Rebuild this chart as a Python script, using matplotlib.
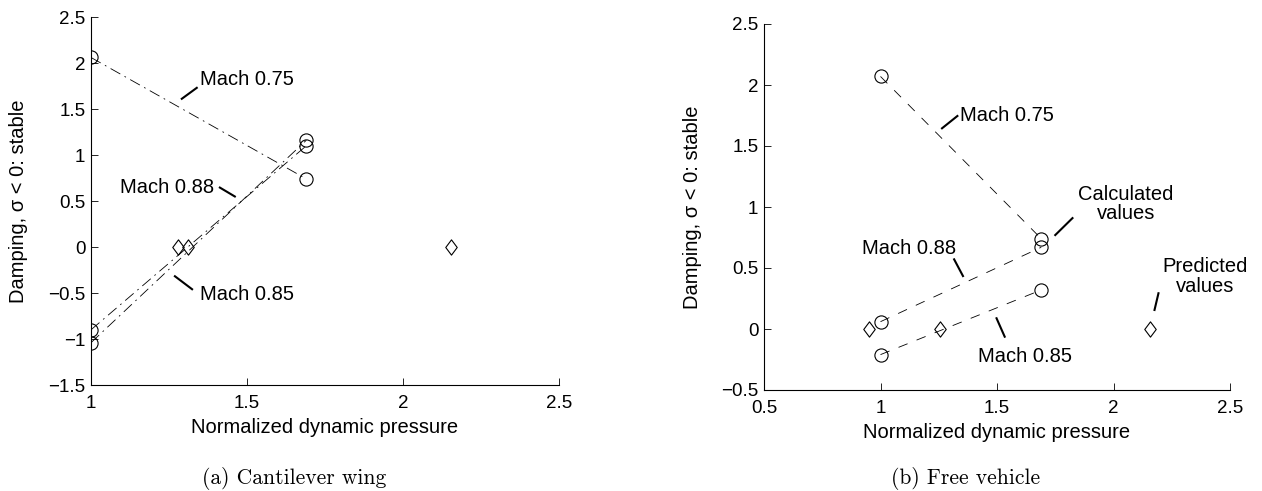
import matplotlib
matplotlib.use("Agg")
import matplotlib.pyplot as plt
from matplotlib.path import Path

plt.rcParams['font.family'] = ['Liberation Sans', 'DejaVu Sans']
plt.rcParams['lines.scale_dashes'] = False

# ---- data: (a) cantilever wing ----
wing_q = [1.0, 1.69]
wing_m075 = [2.06, 0.74]
wing_m088 = [-0.90, 1.10]
wing_m085 = [-1.04, 1.16]
wing_pred_q = [1.28, 1.31, 2.155]
wing_pred_s = [0.0, 0.0, 0.0]

# ---- data: (b) free vehicle ----
veh_q = [1.0, 1.69]
veh_m075 = [2.07, 0.74]
veh_m088 = [0.06, 0.67]
veh_m085 = [-0.21, 0.32]
veh_pred_q = [0.95, 1.255, 2.158]
veh_pred_s = [0.0, 0.0, 0.0]

xlabel = "Normalized dynamic pressure"
ylabel = "Damping, σ < 0: stable"

W, H = 1262, 491
fig = plt.figure(figsize=(W / 100, H / 100), dpi=100)


def px_axes(x0, x1, ytop, ybot):
    return fig.add_axes([x0 / W, 1 - ybot / H, (x1 - x0) / W, (ybot - ytop) / H])


axA = px_axes(91, 559, 17, 385)
axB = px_axes(764, 1230, 24, 390)

diamond = Path([(0, 1), (0.75, 0), (0, -1), (-0.75, 0), (0, 1)],
               [Path.MOVETO, Path.LINETO, Path.LINETO, Path.LINETO, Path.CLOSEPOLY])
circ = dict(marker='o', ms=9.5, mfc='none', mec='black', mew=0.8)
diam = dict(marker=diamond, ms=11, mfc='none', mec='black', mew=0.8, ls='none')
fs_tick = 13.5
fs = 14.5


def style(ax, xlim, ylim, xticks, yticks):
    ax.set_xlim(*xlim)
    ax.set_ylim(*ylim)
    ax.set_xticks(xticks)
    ax.set_yticks(yticks)
    ax.set_xticklabels([f"{t:g}".replace('-', '\u2212') for t in xticks])
    ax.set_yticklabels([f"{t:g}".replace('-', '\u2212') for t in yticks])
    for s in ('top', 'right'):
        ax.spines[s].set_visible(False)
    for s in ('left', 'bottom'):
        ax.spines[s].set_linewidth(0.8)
    ax.tick_params(direction='in', length=5, width=0.6, labelsize=fs_tick)
    ax.tick_params(axis='x', pad=7)
    ax.tick_params(axis='y', pad=4)
    ax.set_xlabel(xlabel, fontsize=fs, va='top')
    ax.set_ylabel(ylabel, fontsize=fs, va='center')


def leader(ax, x0, y0, x1, y1):
    ax.plot([x0, x1], [y0, y1], color='black', lw=1.5, clip_on=False)


# (a) cantilever wing, dash-dot lines
dd = (0, (8, 3.5, 1.2, 3.5))
for ys in (wing_m075, wing_m088, wing_m085):
    axA.plot(wing_q, ys, color='black', lw=0.6, linestyle=dd)
    axA.plot(wing_q, ys, ls='none', **circ)
axA.plot(wing_pred_q, wing_pred_s, **diam)
style(axA, (1, 2.5), (-1.5, 2.5), [1, 1.5, 2, 2.5],
      [-1.5, -1, -0.5, 0, 0.5, 1, 1.5, 2, 2.5])
axA.yaxis.set_label_coords((19 - 91) / 468, 0.5)
axA.xaxis.set_label_coords(0.5, -33 / 368)

axA.text(1.35, 1.817, "Mach 0.75", fontsize=fs, va='center', ha='left')
leader(axA, 1.291, 1.611, 1.339, 1.73)
axA.text(1.394, 0.646, "Mach 0.88", fontsize=fs, va='center', ha='right')
leader(axA, 1.413, 0.646, 1.461, 0.549)
axA.text(1.35, -0.514, "Mach 0.85", fontsize=fs, va='center', ha='left')
leader(axA, 1.269, -0.318, 1.324, -0.459)

# (b) free vehicle, dashed lines
dsh = (0, (7, 7))
for ys in (veh_m075, veh_m088, veh_m085):
    axB.plot(veh_q, ys, color='black', lw=0.6, linestyle=dsh)
    axB.plot(veh_q, ys, ls='none', **circ)
axB.plot(veh_pred_q, veh_pred_s, **diam)
style(axB, (0.5, 2.5), (-0.5, 2.5), [0.5, 1, 1.5, 2, 2.5],
      [-0.5, 0, 0.5, 1, 1.5, 2, 2.5])
axB.yaxis.set_label_coords((693 - 764) / 466, 0.5)
axB.xaxis.set_label_coords(0.5, -33 / 366)

axB.text(1.342, 1.754, "Mach 0.75", fontsize=fs, va='center', ha='left')
leader(axB, 1.264, 1.645, 1.330, 1.746)
axB.text(2.054, 1.025, "Calculated\nvalues", fontsize=fs, va='center',
         ha='center', linespacing=1.05)
leader(axB, 1.75, 0.77, 1.824, 0.909)
axB.text(0.92, 0.661, "Mach 0.88", fontsize=fs, va='center', ha='left')
leader(axB, 1.316, 0.571, 1.354, 0.434)
axB.text(2.392, 0.429, "Predicted\nvalues", fontsize=fs, va='center',
         ha='center', linespacing=1.05)
leader(axB, 2.176, 0.156, 2.193, 0.293)
axB.text(1.42, -0.227, "Mach 0.85", fontsize=fs, va='center', ha='left')
leader(axB, 1.498, 0.088, 1.533, -0.063)

# captions
fig.text(294 / W, 1 - 478 / H, "(a) Cantilever wing", family='cmr10',
         fontsize=15.5, ha='center', va='center')
fig.text(966 / W, 1 - 478 / H, "(b) Free vehicle", family='cmr10',
         fontsize=15.5, ha='center', va='center')

fig.savefig("out.png", dpi=100)
